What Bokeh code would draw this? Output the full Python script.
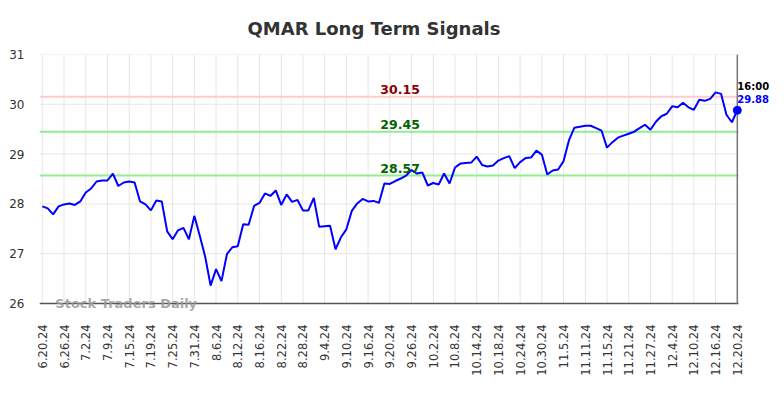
from bokeh.plotting import figure
from bokeh.models import Range1d, FixedTicker, Label, ColumnDataSource
from bokeh.embed import file_html
from bokeh.resources import INLINE
import math

tick_labels = ["6.20.24", "6.26.24", "7.2.24", "7.9.24", "7.15.24", "7.19.24", "7.25.24", "7.31.24",
               "8.6.24", "8.12.24", "8.16.24", "8.22.24", "8.28.24", "9.4.24", "9.10.24", "9.16.24",
               "9.20.24", "9.26.24", "10.2.24", "10.8.24", "10.14.24", "10.18.24", "10.24.24", "10.30.24",
               "11.5.24", "11.11.24", "11.15.24", "11.21.24", "11.27.24", "12.4.24", "12.10.24", "12.16.24",
               "12.20.24"]
tick_step = 4
y_ticks = [26, 27, 28, 29, 30, 31]

prices = [27.95, 27.91, 27.79, 27.95, 27.99, 28.01, 27.98, 28.05, 28.23, 28.31,
          28.45, 28.47, 28.47, 28.61, 28.36, 28.43, 28.45, 28.43, 28.05, 27.99,
          27.87, 28.07, 28.05, 27.45, 27.29, 27.47, 27.52, 27.29, 27.76, 27.36,
          26.94, 26.36, 26.69, 26.45, 26.99, 27.13, 27.15, 27.59, 27.58, 27.96,
          28.02, 28.21, 28.16, 28.27, 27.98, 28.19, 28.04, 28.08, 27.87, 27.87,
          28.12, 27.54, 27.55, 27.56, 27.09, 27.33, 27.49, 27.86, 28.01, 28.10,
          28.05, 28.06, 28.02, 28.41, 28.40, 28.46, 28.51, 28.57, 28.68, 28.61,
          28.63, 28.37, 28.42, 28.39, 28.61, 28.41, 28.73, 28.81, 28.82, 28.83,
          28.95, 28.78, 28.75, 28.77, 28.87, 28.92, 28.96, 28.72, 28.84, 28.92,
          28.93, 29.07, 28.99, 28.59, 28.67, 28.69, 28.86, 29.28, 29.53, 29.55,
          29.57, 29.57, 29.52, 29.47, 29.13, 29.24, 29.33, 29.37, 29.41, 29.45,
          29.52, 29.59, 29.49, 29.65, 29.76, 29.81, 29.96, 29.94, 30.03, 29.94,
          29.89, 30.09, 30.07, 30.11, 30.24, 30.21, 29.79, 29.64, 29.88]

signal_levels = [30.15, 29.45, 28.57]
signal_line_colors = ["#ffcccc", "#90ee90", "#90ee90"]
signal_text_colors = ["#8b0000", "#006400", "#006400"]
last_time = "16:00"

n = len(prices)
idx = list(range(n))
last = n - 1

# plotting area limits (data units)
x_lo, x_hi = -0.516, 134.11
x_plot_end = last + 0.2
y_lo, y_hi = 25.84, 31.0

p = figure(width=776, height=382, output_backend="svg", toolbar_location=None,
           x_range=Range1d(x_lo, x_hi), y_range=Range1d(y_lo, y_hi),
           min_border_left=39, min_border_right=6, min_border_top=53, min_border_bottom=71)
p.outline_line_color = None
p.background_fill_color = "white"
p.border_fill_color = "white"
p.xgrid.visible = False
p.ygrid.visible = False

p.title.text = "QMAR Long Term Signals"
p.title.text_font = "DejaVu Sans"
p.title.text_font_size = "18px"
p.title.text_font_style = "bold"
p.title.text_color = "#333333"
p.title.align = "left"
p.title.offset = 208
p.title.standoff = 31

# x axis
ticks = [i * tick_step for i in range(len(tick_labels))]
p.xaxis.ticker = FixedTicker(ticks=ticks)
p.xaxis.major_label_overrides = {t: lab for t, lab in zip(ticks, tick_labels)}
p.xaxis.major_label_orientation = math.pi / 2
p.xaxis.major_label_text_font = "DejaVu Sans"
p.xaxis.major_label_text_font_size = "11.5px"
p.xaxis.major_label_text_color = "#333333"
p.xaxis.major_tick_line_color = None
p.xaxis.major_tick_out = 0
p.xaxis.major_tick_in = 0
p.xaxis.minor_tick_line_color = None
p.xaxis.axis_line_color = None
p.xaxis.major_label_standoff = 13

# y axis
p.yaxis.ticker = FixedTicker(ticks=y_ticks)
p.yaxis.major_label_text_font = "DejaVu Sans"
p.yaxis.major_label_text_font_size = "12px"
p.yaxis.major_label_text_color = "#333333"
p.yaxis.major_tick_line_color = None
p.yaxis.major_tick_out = 0
p.yaxis.major_tick_in = 0
p.yaxis.minor_tick_line_color = None
p.yaxis.axis_line_color = None
p.yaxis.major_label_standoff = 15

# grid lines (limited to the chart body)
grid_y = [v for v in y_ticks if v > y_ticks[0]]
p.segment(x0=[x_lo] * len(grid_y), y0=grid_y, x1=[x_plot_end] * len(grid_y), y1=grid_y,
          line_color="#e6e6e6", line_width=1)
p.segment(x0=ticks, y0=[y_ticks[0]] * len(ticks), x1=ticks, y1=[y_ticks[-1]] * len(ticks),
          line_color="#e6e6e6", line_width=1)

# signal lines
p.segment(x0=[x_lo] * 3, y0=signal_levels, x1=[x_plot_end] * 3, y1=signal_levels,
          line_color=signal_line_colors, line_width=2)
for lvl, tc in zip(signal_levels, signal_text_colors):
    p.add_layout(Label(x=65.9, y=lvl, text=f"{lvl:.2f}", text_align="center", text_baseline="alphabetic",
                       y_offset=7, text_font="DejaVu Sans", text_font_size="12.5px",
                       text_font_style="bold", text_color=tc))

# watermark
p.add_layout(Label(x=2.4, y=25.94, y_offset=3, text="Stock Traders Daily", text_align="left",
                   text_baseline="alphabetic", text_font="DejaVu Sans", text_font_size="13px",
                   text_font_style="bold", text_color="#999999", text_alpha=0.85))

# bottom axis line
p.segment(x0=[x_lo], y0=[y_ticks[0]], x1=[x_plot_end], y1=[y_ticks[0]],
          line_color="#555555", line_width=1.5)

src = ColumnDataSource(dict(x=idx, y=prices))
p.line("x", "y", source=src, line_color="#0000ff", line_width=2)

# end marker
p.segment(x0=[last], y0=[y_ticks[0]], x1=[last], y1=[y_ticks[-1]], line_color="#777777", line_width=1.5)
p.scatter([last], [prices[-1]], size=8, color="#0000ff")
p.add_layout(Label(x=last, y=prices[-1], y_offset=24, text=last_time, text_align="left",
                   text_baseline="alphabetic", text_font="DejaVu Sans", text_font_size="10px",
                   text_font_style="bold", text_color="#000000"))
p.add_layout(Label(x=last, y=prices[-1], y_offset=11, text=f"{prices[-1]:.2f}", text_align="left",
                   text_baseline="alphabetic", text_font="DejaVu Sans", text_font_size="10px",
                   text_font_style="bold", text_color="#0000ff"))

open("out.html", "w").write(file_html(p, INLINE))
